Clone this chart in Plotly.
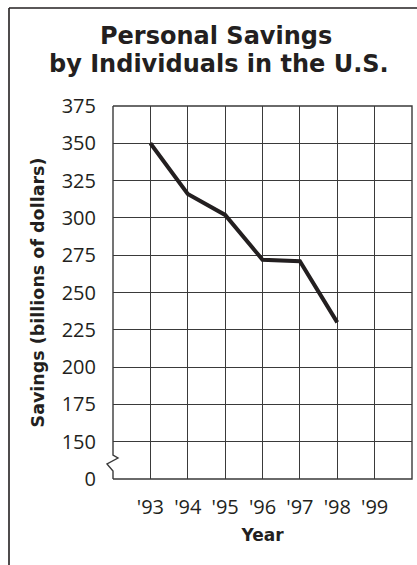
import plotly.graph_objects as go

# Personal savings, billions of dollars
years = [93, 94, 95, 96, 97, 98]
savings = [350, 316, 302, 272, 271, 230]

# Axis ticks (the lowest gridline stands for 0, with a break below 150)
x_ticks = [93, 94, 95, 96, 97, 98, 99]
x_labels = ["'93", "'94", "'95", "'96", "'97", "'98", "'99"]
y_ticks = [125, 150, 175, 200, 225, 250, 275, 300, 325, 350, 375]
y_labels = ["0", "150", "175", "200", "225", "250", "275", "300", "325", "350", "375"]

title_lines = ["Personal Savings", "by Individuals in the U.S."]

INK = "#231f20"
GRID = "#3a3a3a"
TICK_FONT = dict(family="Open Sans", size=20, color=INK)
TITLE_FONT = dict(family="DejaVu Sans", size=24, color=INK, weight="bold")

fig = go.Figure()
fig.add_trace(go.Scatter(
    x=years, y=savings, mode="lines",
    line=dict(color=INK, width=4),
    hoverinfo="skip", showlegend=False,
))

W, H = 417, 565
L, R, T, B = 113, 5, 106, 86
pw, ph = W - L - R, H - T - B


def px(x):
    return (x - L) / pw


def py(y):
    return (H - B - y) / ph


shapes = [
    # outer frame (top and left edges)
    dict(type="line", xref="paper", yref="paper",
         x0=px(9), y0=py(8), x1=px(9), y1=py(H + 10),
         line=dict(color=INK, width=1.6)),
    dict(type="line", xref="paper", yref="paper",
         x0=px(9), y0=py(8), x1=px(W + 10), y1=py(8),
         line=dict(color=INK, width=1.6)),
    # plot border: right, top, bottom
    dict(type="path", xref="paper", yref="paper",
         path="M 0 1 L 1 1 L 1 0 L 0 0",
         line=dict(color=GRID, width=1.4)),
    # left border with the axis-break zigzag
    dict(type="path", xref="paper", yref="paper",
         path=(f"M 0 1 L 0 {py(455)} L {px(118)} {py(458)} "
               f"L {px(107)} {py(464)} L 0 {py(471)} L 0 0"),
         line=dict(color=GRID, width=1.4)),
]

annotations = [
    dict(text=title_lines[0], xref="paper", yref="paper",
         x=px(216), y=py(36), xanchor="center", yanchor="middle",
         showarrow=False, font=TITLE_FONT),
    dict(text=title_lines[1], xref="paper", yref="paper",
         x=px(219), y=py(64), xanchor="center", yanchor="middle",
         showarrow=False, font=TITLE_FONT),
]

fig.update_layout(
    width=W, height=H,
    margin=dict(l=L, r=R, t=T, b=B),
    paper_bgcolor="white", plot_bgcolor="white",
    shapes=shapes,
    annotations=annotations,
    xaxis=dict(
        range=[92, 100], tickvals=x_ticks, ticktext=x_labels,
        showgrid=True, gridcolor=GRID, gridwidth=1,
        showline=False, zeroline=False,
        ticks="outside", ticklen=10, tickcolor="rgba(0,0,0,0)",
        tickfont=TICK_FONT, fixedrange=True,
        title=dict(text="Year", standoff=10,
                   font=dict(family="DejaVu Sans", size=17, color=INK, weight="bold")),
    ),
    yaxis=dict(
        range=[125, 375], tickvals=y_ticks, ticktext=y_labels,
        showgrid=True, gridcolor=GRID, gridwidth=1,
        showline=False, zeroline=False,
        ticks="outside", ticklen=12, tickcolor="rgba(0,0,0,0)",
        tickfont=TICK_FONT, fixedrange=True,
        title=dict(text="Savings (billions of dollars)", standoff=12,
                   font=dict(family="DejaVu Sans", size=17.5, color=INK, weight="bold")),
    ),
)

fig.write_html("out.html")
